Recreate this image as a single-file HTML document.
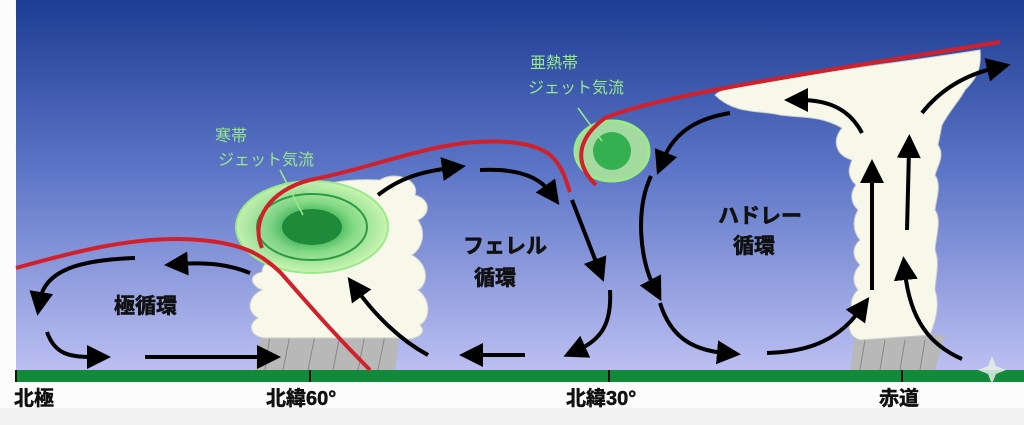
<!DOCTYPE html>
<html><head><meta charset="utf-8"><style>
html,body{margin:0;padding:0;width:1024px;height:425px;overflow:hidden;background:#f2f2f2}
svg{display:block}
text{font-family:"Liberation Sans","Noto Sans CJK JP",sans-serif;font-weight:bold}
</style></head><body>
<svg width="1024" height="425" viewBox="0 0 1024 425">
<defs>
<linearGradient id="sky" x1="0" y1="0" x2="0" y2="1">
<stop offset="0" stop-color="#1d3c93"/><stop offset="0.45" stop-color="#5b74c6"/><stop offset="1" stop-color="#bcbff2"/>
</linearGradient>
<radialGradient id="jet" cx="0.5" cy="0.5" r="0.5">
<stop offset="0" stop-color="#1f8a3a"/><stop offset="0.3" stop-color="#36b152"/><stop offset="0.55" stop-color="#7fd880"/><stop offset="1" stop-color="#c8f5b0"/>
</radialGradient>
<marker id="ah" markerWidth="6" markerHeight="6" refX="2" refY="3" orient="auto" markerUnits="strokeWidth">
<path d="M0,0 L6,3 L0,6 z" fill="#000"/></marker>
</defs>
<rect x="0" y="0" width="1024" height="425" fill="#f2f2f2"/>
<rect x="0" y="382" width="1024" height="26" fill="#fcfcfc"/>
<rect x="0" y="0" width="16" height="382" fill="#fcfcfc"/>
<rect x="16" y="0" width="1008" height="371" fill="url(#sky)"/>
<g fill="#b8b8b8">
<polygon points="262,330 400,330 395,371 255,371"/>
<polygon points="855,335 945,335 935,371 850,371"/>
</g>
<g stroke="#888" stroke-width="1">
<line x1="270" y1="335" x2="265" y2="370"/><line x1="290" y1="335" x2="283" y2="370"/><line x1="315" y1="335" x2="308" y2="370"/><line x1="340" y1="335" x2="333" y2="370"/><line x1="365" y1="335" x2="358" y2="370"/><line x1="385" y1="335" x2="378" y2="370"/>
<line x1="865" y1="340" x2="860" y2="370"/><line x1="885" y1="340" x2="880" y2="370"/><line x1="905" y1="340" x2="900" y2="370"/><line x1="925" y1="340" x2="920" y2="370"/>
</g>
<rect x="16" y="370" width="1008" height="12" fill="#138a3a"/>
<g stroke="#111" stroke-width="2"><line x1="16" y1="370" x2="16" y2="382"/><line x1="310" y1="370" x2="310" y2="382"/><line x1="609" y1="370" x2="609" y2="382"/><line x1="902" y1="370" x2="902" y2="382"/></g>
<g fill="#f8f8ea" stroke="#ccc" stroke-width="1">
<path d="M262,290 C250,285 248,275 262,272 C262,258 285,255 300,262 L300,200 C310,185 340,178 380,180 C395,170 420,180 415,195 C432,200 430,215 418,220 C428,235 420,250 412,255 C430,265 428,285 418,290 C432,300 430,320 420,325 C430,335 410,342 400,338 L270,338 C252,340 245,325 258,318 C244,310 250,295 262,290 Z"/>
</g>
<path d="M715,95 C730,80 820,75 980,50 C982,70 975,80 965,90 C960,100 950,110 942,125 L938,145 C945,155 938,165 935,175 C942,185 936,200 935,210 C942,220 936,235 935,250 C940,262 936,275 935,290 C940,305 936,320 930,335 L860,340 C845,335 848,320 855,315 C848,305 852,295 858,290 C850,280 855,270 860,265 C850,255 854,245 860,240 C850,228 855,215 858,210 C848,200 852,190 856,185 C845,175 850,165 852,160 C835,155 832,140 842,128 C820,115 800,118 780,115 C760,110 735,115 715,95 Z" fill="#f8f8ea" stroke="#ccc" stroke-width="1"/>
<ellipse cx="312" cy="227" rx="76" ry="46" fill="url(#jet)" opacity="0.95"/>
<ellipse cx="312" cy="227" rx="76" ry="46" fill="none" stroke="#9aea8a" stroke-width="2"/>
<ellipse cx="312" cy="227" rx="55" ry="33" fill="none" stroke="#2c9c44" stroke-width="2"/>
<ellipse cx="312" cy="227" rx="30" ry="18" fill="#1f8a3a"/>
<ellipse cx="612" cy="151" rx="37" ry="30" fill="#a4d9a0" stroke="#9aea8a" stroke-width="3"/>
<circle cx="612" cy="151" r="19" fill="#35b050"/>
<line x1="578" y1="108" x2="602" y2="141" stroke="#9aea8a" stroke-width="1.5"/>
<line x1="280" y1="170" x2="303" y2="215" stroke="#9aea8a" stroke-width="1.5"/>
<g fill="none" stroke="#d2202a" stroke-width="4">
<path d="M16,268 C80,250 140,235 200,240 C245,244 262,255 280,272 C305,300 330,330 370,370"/>
<path d="M262,248 C250,220 270,190 310,180 C360,170 400,155 440,147 C490,137 540,140 555,160 C565,172 567,185 570,192"/>
<path d="M596,185 C575,165 575,140 605,118 C660,95 800,75 1000,42"/>
</g>
<g fill="none" stroke="#000" stroke-width="4" marker-end="url(#ah)">
<path d="M135,258 C80,260 45,270 40,300"/>
<path d="M250,273 C230,265 210,262 180,264"/>
<path d="M47,332 C55,355 70,357 95,357"/>
<path d="M145,357 L265,357"/>
<path d="M428,355 C400,340 375,315 357,290"/>
<path d="M378,195 C400,178 420,172 450,168"/>
<path d="M480,170 C520,168 540,178 550,192"/>
<path d="M572,200 L598,267"/>
<path d="M610,290 C612,325 600,340 578,350"/>
<path d="M525,355 L475,355"/>
<path d="M730,113 C700,118 675,130 663,160"/>
<path d="M651,176 C635,210 640,260 654,287"/>
<path d="M660,303 C670,335 690,350 725,353"/>
<path d="M767,353 C800,352 835,345 860,310"/>
<path d="M872,290 L872,175"/>
<path d="M907,230 L909,150"/>
<path d="M962,359 C930,345 910,320 905,272"/>
<path d="M862,133 C850,110 830,100 800,100"/>
<path d="M922,113 C940,90 965,75 995,68"/>
</g>
<g font-size="21" fill="#111" stroke="#111" stroke-width="0.6">
<text x="114" y="313">極循環</text>
<text x="463" y="253">フェレル</text>
<text x="474" y="285">循環</text>
<text x="718" y="223">ハドレー</text>
<text x="733" y="253">循環</text>
</g>
<g font-size="16" fill="#9aea8a">
<text x="215" y="141" style="font-weight:normal">寒帯</text>
<text x="218" y="165" style="font-weight:normal">ジェット気流</text>
<text x="530" y="68" style="font-weight:normal">亜熱帯</text>
<text x="528" y="93" style="font-weight:normal">ジェット気流</text>
</g>
<g font-size="20" fill="#111" stroke="#111" stroke-width="0.5">
<text x="14" y="405">北極</text>
<text x="266" y="405">北緯60°</text>
<text x="566" y="405">北緯30°</text>
<text x="879" y="405">赤道</text>
</g>
<path d="M992,356 L996,366 L1006,370 L996,374 L992,384 L988,374 L978,370 L988,366 Z" fill="#e6eee8" opacity="0.85"/>
</svg>
</body></html>
